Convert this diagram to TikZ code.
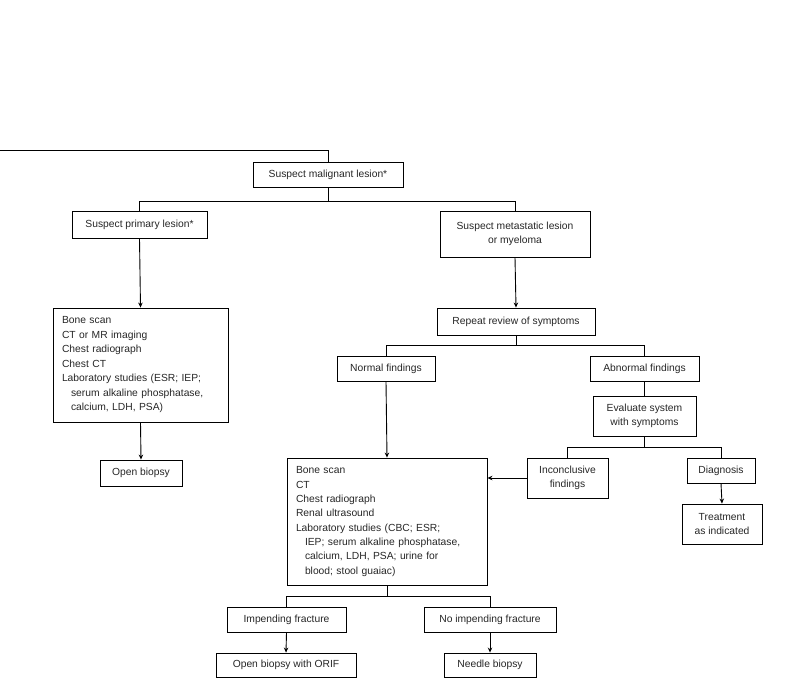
\documentclass[tikz,border=0pt]{standalone}
\usepackage{fontspec}
\setmainfont{Liberation Sans}
\usetikzlibrary{arrows.meta}
\begin{document}
\begin{tikzpicture}[x=1pt,y=-1pt,
  box/.style={draw,line width=0.9pt,inner sep=0pt,align=center,font=\fontsize{10.3}{14.5}\selectfont,text=black!85},
  lbox/.style={box,align=left,inner xsep=9pt},
  ln/.style={line width=0.9pt},
  ar/.style={line width=0.9pt,-{Stealth[length=5pt,width=4.5pt]}}]
\useasboundingbox (0,0) rectangle (800,698);
\coordinate (start) at (0,150);
\node[box,minimum width=150,minimum height=25] (mal) at (328,174.5) {Suspect malignant lesion*};
\node[box,minimum width=135,minimum height=27] (prim) at (139.5,224.5) {Suspect primary lesion*};
\node[box,minimum width=150,minimum height=46] (meta) at (515,234) {Suspect metastatic lesion\\or myeloma};
\node[lbox,minimum width=175,minimum height=114,text width=157] (lab1) at (140.5,365) {Bone scan\\CT or MR imaging\\Chest radiograph\\Chest CT\\Laboratory studies (ESR; IEP;\\\hspace*{9pt}serum alkaline phosphatase,\\\hspace*{9pt}calcium, LDH, PSA)};
\node[box,minimum width=82,minimum height=26] (open) at (141,473) {Open biopsy};
\node[box,minimum width=158,minimum height=27] (rep) at (516,321.5) {Repeat review of symptoms};
\node[box,minimum width=98,minimum height=25] (norm) at (386,368.5) {Normal findings};
\node[box,minimum width=109,minimum height=25] (abn) at (644.5,368.5) {Abnormal findings};
\node[box,minimum width=103,minimum height=40] (eval) at (644.5,416) {Evaluate system\\with symptoms};
\node[box,minimum width=81,minimum height=40] (inc) at (567.5,478) {Inconclusive\\findings};
\node[box,minimum width=68,minimum height=25] (diag) at (721,470.5) {Diagnosis};
\node[box,minimum width=80,minimum height=40] (treat) at (722,524) {Treatment\\as indicated};
\node[lbox,minimum width=200,minimum height=127,text width=182,font=\fontsize{10.3}{14.3}\selectfont] (lab2) at (387,521.5) {Bone scan\\CT\\Chest radiograph\\Renal ultrasound\\Laboratory studies (CBC; ESR;\\\hspace*{9pt}IEP; serum alkaline phosphatase,\\\hspace*{9pt}calcium, LDH, PSA; urine for\\\hspace*{9pt}blood; stool guaiac)};
\node[box,minimum width=119,minimum height=25] (imp) at (286.5,619.5) {Impending fracture};
\node[box,minimum width=132,minimum height=25] (noimp) at (490,619.5) {No impending fracture};
\node[box,minimum width=140,minimum height=24] (orif) at (286,665) {Open biopsy with ORIF};
\node[box,minimum width=92,minimum height=24] (needle) at (490,665) {Needle biopsy};
% connectors
\draw[ln] (start) -| (mal.north);
\draw[ln] (mal.south) -- ++(0,14) -| (prim.north);
\draw[ln] (mal.south) -- ++(0,14) -| (meta.north);
\draw[ar] (prim.south) -- (lab1.north);
\draw[ar] (lab1.south) -- (open.north);
\draw[ar] (meta.south) -- (rep.north);
\draw[ln] (rep.south) -- ++(0,10) -| (norm.north);
\draw[ln] (rep.south) -- ++(0,10) -| (abn.north);
\draw[ln] (abn.south) -- (eval.north);
\draw[ln] (eval.south) -- ++(0,11) -| (inc.north);
\draw[ln] (eval.south) -- ++(0,11) -| (diag.north);
\draw[ar] (diag.south) -- (treat.north);
\draw[ar] (norm.south) -- (lab2.north);
\draw[ar] (inc.west) -- (inc.west -| lab2.east);
\draw[ln] (lab2.south) -- ++(0,11) -| (imp.north);
\draw[ln] (lab2.south) -- ++(0,11) -| (noimp.north);
\draw[ar] (imp.south) -- (orif.north);
\draw[ar] (noimp.south) -- (needle.north);
\end{tikzpicture}
\end{document}
